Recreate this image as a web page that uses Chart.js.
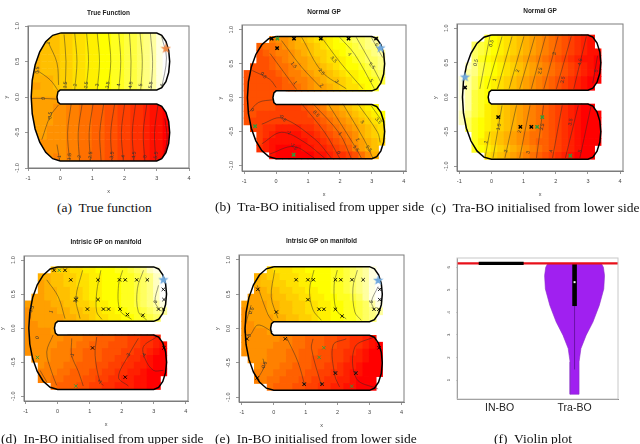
<!DOCTYPE html>
<html>
<head>
<meta charset="utf-8">
<style>
  html, body { margin: 0; background: #fff; }
  body { width: 640px; height: 444px; position: relative; overflow: hidden; }
  canvas { position: absolute; filter: blur(0.6px); }
  .cap { position: absolute; font: 13.5px "Liberation Serif", serif; color: #111; white-space: pre; line-height: 16px; }
</style>
<script src="https://cdn.jsdelivr.net/npm/chart.js@4"></script>
</head>
<body>
<script>
// U shaped domain, same for every surface panel
const outlineX = [0, 3, 3.153, 3.283, 3.37, 3.4, 3.37, 3.283, 3.153, 3, 0, -0.071, -0.1, -0.071, 0, 3, 3.153, 3.283, 3.37, 3.4, 3.37, 3.283, 3.153, 3, 0, -0.233, -0.45, -0.636, -0.779, -0.869, -0.9, -0.869, -0.779, -0.636, -0.45, -0.233, 0];
const outlineY = [0.9, 0.9, 0.87, 0.783, 0.653, 0.5, 0.347, 0.217, 0.13, 0.1, 0.1, 0.071, 0, -0.071, -0.1, -0.1, -0.13, -0.217, -0.347, -0.5, -0.653, -0.783, -0.87, -0.9, -0.9, -0.869, -0.779, -0.636, -0.45, -0.233, 0, 0.233, 0.45, 0.636, 0.779, 0.869, 0.9];
const slotX = [0.3, 0, -0.071, -0.1, -0.071, 0, 0.3];
const slotY = [0.1, 0.1, 0.071, 0, -0.071, -0.1, -0.1];

const xTicks = [-1, 0, 1, 2, 3, 4];
const yTicks = [-1, -0.5, 0, 0.5, 1];

// heat grid centres, level chars: 0 red .. g yellow .. o white
const heatX = [-0.9, -0.7, -0.5, -0.3, -0.1, 0.1, 0.3, 0.5, 0.7, 0.9, 1.1, 1.3, 1.5, 1.7, 1.9, 2.1, 2.3, 2.5, 2.7, 2.9, 3.1, 3.3];
const heatY = [0.85, 0.75, 0.65, 0.55, 0.45, 0.35, 0.25, 0.15, 0.05, -0.05, -0.15, -0.25, -0.35, -0.45, -0.55, -0.65, -0.75, -0.85];

const heatA = [
  'cccccddeeffgghhiijklno', 'cccccddeeffgghhiijklno', 'cccccddeeffgghhiijklno', 'bbcccddeeffgghhiijklno',
  'bbcccddeeffgghhiijklno', 'bbcccddeeffgghhiijklno', 'bbbbcddeeffgghhiijklno', 'aabbcddeeffgghhiijklno',
  'bbbbb.................', 'aaaaa.................',
  'aaaa998877665544332110', 'aaaa998877665544332110', 'aaaa998877665544332110', 'aaa9998877665544332110',
  'aaa9998877665544332110', 'a999998877665544332110', 'a999998877665544332110', '9999898877665544332110'
];
const heatB = [
  '....899abcdeefghijjkl.', '..67789abbcdefgghijkk.', '..567889abcddefghiijkl', '..556789aabcdeefghijjk',
  '.55567789abbcdefgghijk', '5555567889abbcdeffghij', '55555567889abccdefgghi', '55555566789aabcdeefgh.',
  '55555.................', '55555.................',
  '5555544445678aabcdefg.', '554444444456789abcdefg', '5444444444456789abcdef', '.4433222233456789abcde',
  '..4321111223456789bcde', '..4211111122345679abcd', '..3210000112234568abc.', '....1000000112334579b.'
];
const heatC = [
  '....hgfedcba987654321.', '..jihgfedcba987654321.', '..jihgfedcba9876543211', '..jhgfedcba98765432110',
  '.mkihgfedcba9876543210', 'olkihgfedcba9876543210', 'nljhgfedcba98765432100', 'nljhgfedcba9876543210.',
  'nlihg.................', 'nlihg.................',
  'nlihfedcba98765432100.', 'mkihfedcba987654321000', 'mjhgfedcba987654321000', '.jhgfedcba987654321000',
  '..hgedcba9877654321000', '..hfedcba9876654321000', '..hgfedcba98765432100.', '....edcba987654321000.'
];
const heatD = [
  '....cddeeffggghhijkmn.', '..bbccddeeffggghhijkm.', '..abccddeeffggghhijkmo', '..abbccddeffggghhijkmo',
  '.aabbccddeffggghhijkmo', 'aaaabbccddeffgghhijkln', '9aaaabbccddeffgghhijkl', '9aaaaabbccdeeffgghhij.',
  '99aaa.................', '9999a.................',
  '999999888776665544332.', '9999988877666555443321', '9999888776665554433210', '.999888776665544332100',
  '..98887766655443322100', '..88877666554433221000', '..8877666554433221100.', '....76665544332221100.'
];
const heatE = [
  '....deeeffgggghhijkln.', '..bcddeeeffggghhijkln.', '..bccddeeffggghhijklno', '..abccddeeffgghhijklno',
  '.aabbccddeeffgghhijlno', 'aaaabbccddeeffgghhijln', '9aaabbccddeeffgghhijkl', '9aaaabbccddeffgghhijk.',
  '99aaa.................', '9999a.................',
  '999999887766655443321.', '9999988877666554433210', '9999888776665544332100', '.999888776655544322100',
  '..98887766655443221000', '..88877666554433211000', '..8877666554433221000.', '....76665544332211000.'
];

// contour lines as [x, y] lists
const contoursA = [
  [[0.12, 0.88], [0.18, 0.5], [0.15, 0.12]], [[0.45, 0.9], [0.52, 0.5], [0.45, 0.1]], [[0.82, 0.9], [0.88, 0.5], [0.8, 0.1]],
  [[1.15, 0.9], [1.22, 0.5], [1.15, 0.1]], [[1.5, 0.9], [1.57, 0.5], [1.48, 0.1]], [[1.82, 0.9], [1.88, 0.5], [1.82, 0.1]],
  [[2.15, 0.9], [2.2, 0.5], [2.17, 0.1]], [[2.48, 0.9], [2.55, 0.5], [2.5, 0.1]], [[2.8, 0.9], [2.87, 0.5], [2.82, 0.1]],
  [[3.15, 0.85], [3.3, 0.55], [3.15, 0.12]],
  [[0.34, -0.1], [0.23, -0.5], [0.29, -0.9]], [[0.68, -0.1], [0.56, -0.5], [0.6, -0.9]], [[1.02, -0.1], [0.9, -0.5], [0.94, -0.9]],
  [[1.35, -0.1], [1.23, -0.5], [1.27, -0.9]], [[1.69, -0.1], [1.57, -0.5], [1.61, -0.9]], [[2, -0.1], [1.9, -0.5], [1.96, -0.9]],
  [[2.34, -0.1], [2.24, -0.5], [2.29, -0.9]], [[2.69, -0.1], [2.58, -0.5], [2.63, -0.9]], [[3.04, -0.1], [2.93, -0.5], [2.97, -0.9]],
  [[3.2, -0.85], [3.32, -0.6], [3.25, -0.3]],
  [[-0.36, 0.76], [-0.1, 0.48], [-0.05, 0.17]], [[-0.73, 0.38], [-0.31, 0.24], [-0.05, 0.08]], [[-0.89, -0.02], [-0.52, -0.02], [-0.1, -0.03]],
  [[-0.05, -0.11], [-0.31, -0.27], [-0.57, -0.6]], [[-0.1, -0.67], [-0.02, -0.89]]
];
const contoursB = [
  [[-0.75, 0.4], [-0.2, 0.27], [0, 0.15]], [[-0.19, 0.65], [0.64, 0.12]], [[0.17, 0.84], [0.8, 0.45], [1.42, 0.14]],
  [[0.8, 0.89], [1.44, 0.38], [2.2, 0.13]], [[1.42, 0.89], [2.04, 0.5], [2.72, 0.13]], [[1.99, 0.89], [2.46, 0.64], [3.08, 0.13]],
  [[2.51, 0.89], [2.98, 0.5], [3.29, 0.22]], [[2.98, 0.89], [3.34, 0.59]],
  [[-0.2, -0.83], [0.55, -0.72], [1.2, -0.89]], [[-0.45, -0.68], [0.17, -0.51], [0.9, -0.66], [1.52, -0.89]],
  [[-0.45, -0.39], [0.17, -0.3], [1.21, -0.61], [1.73, -0.89]], [[-0.09, -0.03], [-0.55, -0.07], [-0.86, -0.22]],
  [[0.8, -0.09], [1.52, -0.51], [1.99, -0.89]], [[1.16, -0.09], [1.99, -0.53], [2.35, -0.89]], [[1.63, -0.09], [2.51, -0.75], [2.67, -0.89]],
  [[2.09, -0.09], [2.77, -0.63], [3.03, -0.89]], [[2.56, -0.09], [3.18, -0.51], [3.26, -0.66]], [[2.98, -0.12], [3.34, -0.36]]
];
const contoursC = [
  [[-0.05, 0.88], [-0.36, 0.12]], [[0.33, 0.88], [-0.13, 0.12]], [[0.64, 0.88], [0.19, 0.12]], [[1.01, 0.88], [0.55, 0.12]],
  [[1.35, 0.88], [0.88, 0.12]], [[1.68, 0.88], [1.24, 0.12]], [[2.07, 0.88], [1.63, 0.12]], [[2.48, 0.88], [2.02, 0.12]],
  [[2.95, 0.88], [2.56, 0.12]], [[3.3, 0.6], [3.15, 0.2]],
  [[-0.05, -0.5], [-0.2, -0.88]], [[0.33, -0.12], [0.05, -0.88]], [[0.78, -0.12], [0.42, -0.88]], [[1.2, -0.12], [0.88, -0.88]],
  [[1.62, -0.12], [1.4, -0.88]], [[2.2, -0.12], [1.9, -0.88]], [[2.7, -0.12], [2.3, -0.88]], [[3.1, -0.12], [2.75, -0.88]]
];
const contoursD = [
  [[-0.34, 0.71], [0.02, 0.46], [0.23, 0.14]], [[0.78, 0.85], [0.57, 0.44], [0.7, 0.14]], [[1.35, 0.85], [1.22, 0.53], [1.22, 0.24], [1.38, 0.13]],
  [[2.03, 0.85], [1.9, 0.63], [1.95, 0.26], [2.31, 0.13]], [[2.68, 0.85], [2.49, 0.58], [2.52, 0.24], [2.78, 0.12]],
  [[3.15, 0.63], [3.04, 0.39], [3.2, 0.26]], [[-0.81, 0.36], [-0.86, 0.14]],
  [[-0.14, -0.1], [-0.34, -0.35], [-0.19, -0.64], [-0.03, -0.84]], [[0.44, -0.15], [0.44, -0.4], [0.65, -0.64], [0.8, -0.85]],
  [[1.22, -0.13], [1.17, -0.4], [1.32, -0.79], [1.43, -0.84]], [[2.52, -0.15], [2.21, -0.4], [1.9, -0.72], [2.21, -0.85]],
  [[3.09, -0.13], [2.68, -0.27], [2.73, -0.45], [2.99, -0.62], [3.3, -0.62]], [[-0.55, -0.62], [-0.34, -0.79]]
];
const contoursE = [
  [[0.03, 0.85], [-0.08, 0.46], [0.13, 0.15]], [[-0.52, 0.63], [-0.18, 0.2], [-0.03, 0.1]], [[1.26, 0.85], [1.12, 0.56], [1.23, 0.27], [1.49, 0.12]],
  [[1.99, 0.85], [1.89, 0.63], [1.96, 0.27], [2.27, 0.14]], [[2.62, 0.85], [2.48, 0.59], [2.54, 0.24], [2.74, 0.12]],
  [[3.27, 0.61], [3.06, 0.39], [3.16, 0.27]], [[-0.71, 0.34], [-0.92, -0.05], [-0.76, -0.1], [-0.5, 0.05], [-0.03, -0.05]],
  [[0.39, -0.12], [0.76, -0.49], [0.97, -0.83]], [[-0.34, -0.44], [-0.29, -0.54], [-0.5, -0.73]], [[1.23, -0.15], [1.18, -0.29], [1.49, -0.83]],
  [[2.27, -0.15], [1.86, -0.24], [1.91, -0.68], [2.06, -0.85]], [[3.16, -0.12], [2.54, -0.27], [2.59, -0.73], [3.27, -0.88]]
];

// contour labels: x, y, text
const labelsA = [
  [0.16, 0.17, '1.5'], [0.47, 0.17, '2'], [0.81, 0.17, '2.5'], [1.15, 0.17, '3'], [1.48, 0.17, '3.5'], [1.82, 0.17, '4'], [2.19, 0.17, '4.5'],
  [2.5, 0.17, '5'], [2.81, 0.17, '5.5'], [3.17, 0.17, '6'], [-0.36, 0.76, '1'], [-0.7, 0.38, '0.5'], [-0.52, -0.02, '0'], [-0.31, -0.27, '-0.5'],
  [-0.02, -0.85, '-1'], [0.29, -0.85, '-1.5'], [0.6, -0.85, '-2'], [0.94, -0.83, '-2.5'], [1.61, -0.83, '-3.5'], [1.96, -0.85, '-4'], [2.29, -0.83, '-4.5'], [2.63, -0.85, '-5'], [2.97, -0.83, '-5.5']
];
const labelsB = [
  [-0.4, 0.33, '0.5'], [0.6, 0.22, '1'], [0.55, 0.48, '1.5'], [1.42, 0.18, '2'], [1.42, 0.38, '2.5'], [1.9, 0.24, '3'], [1.8, 0.56, '3.5'],
  [2.3, 0.64, '4'], [2.98, 0.25, '5'], [3, 0.47, '5.5'], [3.14, 0.78, '6'], [-0.75, -0.18, '0'], [0.2, -0.3, '-0.5'], [0.4, -0.51, '-1'], [0.55, -0.72, '-1.5'],
  [1.95, -0.81, '0'], [1.25, -0.24, '0.5'], [2, -0.53, '1'], [2.5, -0.75, '1.5'], [2.55, -0.62, '2'], [2.9, -0.75, '2.5'], [2.7, -0.36, '3'], [3.2, -0.34, '3.5']
];
const labelsC = [
  [0, 0.78, '0.5'], [-0.48, 0.5, '0.5'], [0.1, 0.25, '1'], [0.82, 0.38, '2'], [1.52, 0.38, '2.5'], [1.96, 0.63, '3'], [2.22, 0.25, '3.5'],
  [2.76, 0.51, '4.5'], [3.26, 0.38, '5'], [-0.17, -0.65, '1'], [0.23, -0.43, '1.5'], [0.45, -0.78, '2'], [0.88, -0.5, '2'], [1.14, -0.8, '3'], [1.58, -0.43, '3.5'],
  [1.86, -0.78, '4'], [2.46, -0.36, '3.5'], [2.75, -0.78, '5']
];
const labelsD = [[-0.63, -0.14, '0'], [-0.81, 0.28, '0.5'], [-0.2, 0.24, '1'], [0.45, -0.4, '-1'], [0.57, 0.42, '1.5'], [1.32, -0.79, '-2'], [2.21, -0.4, '-3'], [2.7, -0.4, '-4'], [3.06, 0.39, '5']];
const labelsE = [[-0.7, 0.26, '0.5'], [-0.76, -0.1, '0'], [-0.3, -0.54, '-0.5'], [0.95, -0.81, '-1'], [1.51, -0.81, '-2'], [1.93, -0.65, '-3'], [2.57, -0.65, '-4'], [3.06, 0.39, '5']];

// evaluated points
const blackB = [[-0.14, 0.87], [0.56, 0.87], [1.4, 0.87], [2.27, 0.87], [3.13, 0.87], [0.03, 0.73]];
const greenB = [[0.04, 0.87], [-0.66, -0.42], [0.55, -0.84]];
const blackC = [[-0.82, 0.14], [0.21, -0.29], [0.9, -0.43], [1.24, -0.43]];
const greenC = [[1.58, -0.29], [1.42, -0.43], [2.45, -0.85]];
const blackD = [[-0.11, 0.85], [0.23, 0.85], [0.41, 0.71], [1.26, 0.71], [1.93, 0.71], [2.11, 0.71], [2.47, 0.71], [2.8, 0.71], [0.57, 0.42], [1.26, 0.42], [0.93, 0.28], [1.43, 0.28], [1.59, 0.28], [1.95, 0.28], [2.18, 0.2], [2.66, 0.19], [3.15, 0.28], [3.3, 0.28], [3.3, 0.57], [3.32, 0.42], [3.32, -0.29], [1.09, -0.29], [2.11, -0.72]];
const greenD = [[0.05, 0.85], [-0.63, -0.43], [0.57, -0.85]];
const blackE = [[0.7, 0.71], [1.07, 0.71], [1.24, 0.71], [1.93, 0.71], [2.1, 0.71], [2.45, 0.71], [2.8, 0.71], [1.07, 0.42], [1.42, 0.28], [1.57, 0.28], [1.93, 0.28], [2.14, 0.18], [3.14, 0.28], [3.29, 0.28], [3.32, 0.57], [3.32, 0.42], [-0.5, 0.57], [0.08, 0.24], [-0.84, -0.15], [0.36, -0.15], [-0.52, -0.72], [3.3, -0.28], [0.95, -0.81], [1.51, -0.81], [1.93, -0.65], [2.57, -0.65]];
const greenE = [[1.57, -0.28], [1.42, -0.42], [2.44, -0.84]];

// violin panel
const violinCategories = ['IN-BO', 'Tra-BO'];
const violinTicks = [1, 2, 3, 4, 5, 6];
const violinLevels = [0.37, 1.81, 2.4, 2.99, 3.57, 4.31, 5.04, 5.63, 6, 6.15];
const violinHalfWidth = [0.06, 0.06, 0.085, 0.155, 0.245, 0.33, 0.39, 0.4, 0.385, 0.36];
const optimumValue = 6.17;
const boxQuartiles = [4.28, 6.15];
const boxMedian = 5.34;
const whiskerLow = 1.47;

const GREY = '#7d7d7d';
const pts = list => list.map(([x, y]) => ({ x, y }));

function heatColor(level) {
  if (level <= 16) return `rgb(255,${Math.min(255, level * 16)},0)`;
  return `rgb(255,255,${Math.min(255, (level - 16) * 32)})`;
}

function starImage(color) {
  const c = document.createElement('canvas');
  c.width = c.height = 11;
  const g = c.getContext('2d');
  g.fillStyle = color;
  g.beginPath();
  for (let i = 0; i < 10; i++) {
    const r = i % 2 ? 2.2 : 5.4;
    const a = -Math.PI / 2 + i * Math.PI / 5;
    g.lineTo(5.5 + r * Math.cos(a), 5.5 + r * Math.sin(a));
  }
  g.closePath();
  g.fill();
  return c;
}

const panelPlugin = {
  id: 'panelPlugin',
  beforeDatasetDraw(chart, args, opts) {
    if (args.index !== 0 || !opts.clipHeat) return;
    const { x, y } = chart.scales;
    const ctx = chart.ctx;
    ctx.save();
    ctx.beginPath();
    outlineX.forEach((v, i) => ctx.lineTo(x.getPixelForValue(v), y.getPixelForValue(outlineY[i])));
    ctx.closePath();
    ctx.clip();
  },
  afterDatasetDraw(chart, args, opts) {
    if (args.index === 0 && opts.clipHeat) chart.ctx.restore();
  },
  afterDraw(chart, args, opts) {
    const { x, y } = chart.scales;
    const ctx = chart.ctx;
    const a = chart.chartArea;
    ctx.save();
    ctx.strokeStyle = opts.frame || GREY;
    ctx.lineWidth = 1;
    ctx.strokeRect(a.left, a.top, a.right - a.left, a.bottom - a.top);
    ctx.fillStyle = '#333';
    ctx.font = '5px "Liberation Sans"';
    ctx.textAlign = 'center';
    ctx.textBaseline = 'middle';
    (opts.labels || []).forEach(([lx, ly, text]) => {
      ctx.save();
      ctx.translate(x.getPixelForValue(lx), y.getPixelForValue(ly));
      ctx.rotate(opts.labelAngle || 0);
      ctx.fillText(text, 0, 0);
      ctx.restore();
    });
    ctx.restore();
  }
};

function makeCanvas(box) {
  const c = document.createElement('canvas');
  c.width = box.right - box.left + 25 + 6;
  c.height = box.bottom - box.top + 22 + 30;
  c.style.left = (box.left - 25) + 'px';
  c.style.top = (box.top - 22) + 'px';
  document.body.appendChild(c);
  return c;
}

function axisOptions(min, max, ticks, fit, extra) {
  return Object.assign({
    type: 'linear', min, max,
    afterBuildTicks: s => { s.ticks = ticks.map(value => ({ value })); },
    afterFit: fit,
    grid: { drawOnChartArea: false, color: GREY, tickLength: 3, lineWidth: 0.8 },
    border: { color: GREY, width: 1 }
  }, extra);
}

function surfacePanel(p) {
  const heatPts = [];
  const heatCols = [];
  p.heat.forEach((row, j) => {
    [...row].forEach((ch, i) => {
      if (ch === '.') return;
      heatPts.push({ x: heatX[i], y: heatY[j] });
      heatCols.push(heatColor(parseInt(ch, 36)));
    });
  });

  const datasets = [
    { data: heatPts, pointStyle: 'rect', pointRadius: 5.4, pointBorderWidth: 0, pointBackgroundColor: heatCols, showLine: false, order: 9 },
    { data: pts(slotX.map((v, i) => [v, slotY[i]])), showLine: true, fill: 'shape', backgroundColor: '#fff', borderWidth: 0, pointRadius: 0, order: 8 }
  ];
  p.contours.forEach(c => datasets.push({ data: pts(c), showLine: true, tension: 0.35, borderColor: 'rgba(40,40,40,0.65)', borderWidth: 0.7, pointRadius: 0, order: 5 }));
  datasets.push({ data: pts(outlineX.map((v, i) => [v, outlineY[i]])), showLine: true, borderColor: '#000', borderWidth: 1.5, pointRadius: 0, order: 3 });
  if (p.black) datasets.push({ data: pts(p.black), pointStyle: 'crossRot', pointRadius: 2.4, pointBorderWidth: p.markWidth, pointBorderColor: '#000', showLine: false, order: 2 });
  if (p.green) datasets.push({ data: pts(p.green), pointStyle: 'crossRot', pointRadius: 2.4, pointBorderWidth: p.markWidth, pointBorderColor: '#2e9b3a', showLine: false, order: 1 });
  datasets.push({ data: pts([p.star]), pointStyle: starImage(p.starColor), showLine: false, order: 0 });

  const fitX = s => { s.height = 30; };
  const fitY = s => { s.width = 25; };
  const tickFont = { family: 'Liberation Sans', size: 5.5 };
  new Chart(makeCanvas(p.box), {
    type: 'scatter',
    data: { datasets },
    plugins: [panelPlugin],
    options: {
      responsive: false, animation: false, events: [],
      layout: { padding: { right: 6 } },
      plugins: {
        legend: { display: false }, tooltip: { enabled: false },
        title: {
          display: true, text: p.title, fullSize: false, color: '#222',
          font: { family: 'Liberation Sans', size: 6.5, weight: 'bold' },
          padding: { top: 22 - 7.8 - p.titleGap, bottom: p.titleGap }
        },
        panelPlugin: { clipHeat: p.clip, labels: p.labels, labelAngle: p.labelAngle }
      },
      scales: {
        x: axisOptions(p.xRange[0], p.xRange[1], xTicks, fitX, {
          ticks: { color: '#444', font: tickFont, padding: 4, minRotation: 0, maxRotation: 0, autoSkip: false, callback: v => String(v) },
          title: { display: true, text: 'x', color: '#444', font: tickFont, padding: { top: 0, bottom: 3 } }
        }),
        y: axisOptions(p.yRange[0], p.yRange[1], yTicks, fitY, {
          ticks: { color: '#444', font: tickFont, padding: 3, minRotation: 90, maxRotation: 90, crossAlign: 'center', autoSkip: false, callback: v => Number(v).toFixed(1) },
          title: { display: true, text: 'y', color: '#444', font: tickFont, padding: 0 }
        })
      }
    }
  });
}

surfacePanel({ box: { left: 28, right: 189, top: 26, bottom: 168 }, xRange: [-1, 4], yRange: [-1, 1], title: 'True Function', titleGap: 8.8, heat: heatA, contours: contoursA, labels: labelsA, labelAngle: -1.45, clip: true, star: [3.28, 0.68], starColor: '#ee8844', markWidth: 1.2 });
surfacePanel({ box: { left: 242, right: 406, top: 25, bottom: 171 }, xRange: [-1.07, 4.07], yRange: [-1.08, 1.07], title: 'Normal GP', titleGap: 9, heat: heatB, contours: contoursB, labels: labelsB, labelAngle: 0.9, black: blackB, green: greenB, star: [3.27, 0.73], starColor: '#6fa8dc', markWidth: 1.4 });
surfacePanel({ box: { left: 457, right: 623, top: 24, bottom: 171 }, xRange: [-1.07, 4.09], yRange: [-1.07, 1.06], title: 'Normal GP', titleGap: 9, heat: heatC, contours: contoursC, labels: labelsC, labelAngle: -1.35, black: blackC, green: greenC, star: [-0.82, 0.29], starColor: '#6fa8dc', markWidth: 1.4 });
surfacePanel({ box: { left: 24, right: 188, top: 256, bottom: 401 }, xRange: [-1.05, 4.07], yRange: [-1.07, 1.06], title: 'Intrisic GP on manifold', titleGap: 9.5, heat: heatD, contours: contoursD, labels: labelsD, labelAngle: -1.2, black: blackD, green: greenD, star: [3.3, 0.71], starColor: '#6fa8dc', markWidth: 0.9 });
surfacePanel({ box: { left: 239, right: 404, top: 255, bottom: 402 }, xRange: [-1.09, 4.08], yRange: [-1.07, 1.07], title: 'Intrisic GP on manifold', titleGap: 9.5, heat: heatE, contours: contoursE, labels: labelsE, labelAngle: -1.2, black: blackE, green: greenE, star: [3.27, 0.7], starColor: '#6fa8dc', markWidth: 0.9 });

// violin panel (f)
(function () {
  const xMin = 0.43, xMax = 2.58;
  const right = violinLevels.map((v, i) => [2 + violinHalfWidth[i], v]);
  const left = violinLevels.map((v, i) => [2 - violinHalfWidth[i], v]).reverse();
  const shape = right.concat(left, [right[0]]);
  const box = { left: 457, right: 618, top: 258, bottom: 399 };
  new Chart(makeCanvas(box), {
    type: 'scatter',
    data: {
      datasets: [
        { data: pts([[1, boxMedian]]), showLine: false, pointRadius: 0, order: 9 },
        { data: pts([[xMin, optimumValue], [xMax, optimumValue]]), showLine: true, clip: 3, borderColor: '#e8101a', borderWidth: 2.2, pointRadius: 0, order: 1 },
        { data: pts([[0.72, optimumValue], [1.32, optimumValue]]), showLine: true, borderColor: '#000', borderWidth: 3.4, pointRadius: 0, order: 0 },
        { data: pts(shape), showLine: true, fill: 'shape', backgroundColor: '#a020f0', borderColor: '#8a2bc8', borderWidth: 0.6, pointRadius: 0, order: 6 },
        { data: pts([[2, whiskerLow], [2, boxQuartiles[0]]]), showLine: true, borderColor: '#6a10a8', borderWidth: 1, pointRadius: 0, order: 5 },
        { data: pts([[2, boxQuartiles[0]], [2, boxQuartiles[1]]]), showLine: true, borderColor: '#000', borderWidth: 4.6, pointRadius: 0, order: 4 },
        { data: pts([[2, boxMedian]]), showLine: false, pointStyle: 'rect', pointRadius: 1.4, pointBorderWidth: 0, pointBackgroundColor: '#fff', order: 3 }
      ]
    },
    plugins: [panelPlugin],
    options: {
      responsive: false, animation: false, events: [],
      layout: { padding: { right: 6, top: 22 } },
      plugins: { legend: { display: false }, tooltip: { enabled: false }, panelPlugin: { frame: '#c8c8c8' } },
      scales: {
        x: axisOptions(xMin, xMax, [1, 2], s => { s.height = 30; }, {
          grid: { drawOnChartArea: false, drawTicks: false },
          ticks: { color: '#222', font: { family: 'Liberation Sans', size: 10.5 }, padding: 3, minRotation: 0, maxRotation: 0, autoSkip: false, callback: v => violinCategories[v - 1] }
        }),
        y: axisOptions(0.16, 6.41, violinTicks, s => { s.width = 25; }, {
          grid: { drawOnChartArea: false, color: '#999', tickLength: 1, lineWidth: 0.6 },
          ticks: { color: '#444', font: { family: 'Liberation Sans', size: 4.2 }, padding: 6, minRotation: 90, maxRotation: 90, crossAlign: 'center', autoSkip: false }
        })
      }
    }
  });
})();

const captions = [
  ['(a)  True function', 57, 200],
  ['(b)  Tra-BO initialised from upper side', 215, 199],
  ['(c)  Tra-BO initialised from lower side', 431, 200],
  ['(d)  In-BO initialised from upper side', 1, 431],
  ['(e)  In-BO initialised from lower side', 215, 431],
  ['(f)  Violin plot', 494, 431]
];
captions.forEach(([text, left, top]) => {
  const el = document.createElement('div');
  el.className = 'cap';
  el.textContent = text;
  el.style.left = left + 'px';
  el.style.top = top + 'px';
  document.body.appendChild(el);
});
</script>
</body>
</html>
